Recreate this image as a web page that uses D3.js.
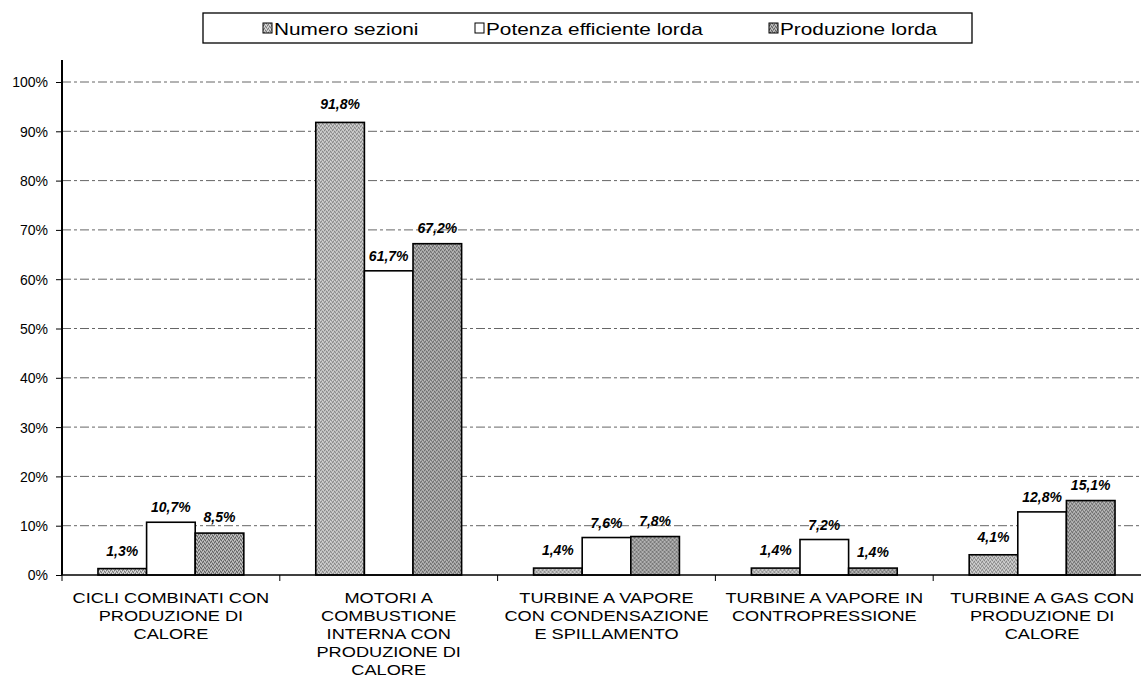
<!DOCTYPE html>
<html>
<head>
<meta charset="utf-8">
<script src="https://cdn.jsdelivr.net/npm/d3@7"></script>
<style>
  body { margin: 0; background: #fff; }
  svg { font-family: "Liberation Sans", Arial, sans-serif; }
</style>
</head>
<body>
<div id="chart"></div>
<script>
// data
var categories = [
  ["CICLI COMBINATI CON", "PRODUZIONE DI", "CALORE"],
  ["MOTORI A", "COMBUSTIONE", "INTERNA CON", "PRODUZIONE DI", "CALORE"],
  ["TURBINE A VAPORE", "CON CONDENSAZIONE", "E SPILLAMENTO"],
  ["TURBINE A VAPORE IN", "CONTROPRESSIONE"],
  ["TURBINE A GAS CON", "PRODUZIONE DI", "CALORE"]
];
var seriesNames = ["Numero sezioni", "Potenza efficiente lorda", "Produzione lorda"];
var numeroSezioni = [1.3, 91.8, 1.4, 1.4, 4.1];
var potenzaLorda = [10.7, 61.7, 7.6, 7.2, 12.8];
var produzioneLorda = [8.5, 67.2, 7.8, 1.4, 15.1];
var yTicks = [0, 10, 20, 30, 40, 50, 60, 70, 80, 90, 100];

var series = [numeroSezioni, potenzaLorda, produzioneLorda];
var fills = ["url(#stipple0)", "#ffffff", "url(#stipple2)"];
var labelGap = [13, 10, 11];
var stretch = 1.3; // the scanned text is wide

var width = 1141, height = 686;
var margin = { top: 82, right: 0, bottom: 111, left: 62 };
var innerW = width - margin.left - margin.right,
  innerH = height - margin.top - margin.bottom;

var svg = d3
  .select("#chart")
  .append("svg")
  .attr("width", width)
  .attr("height", height);

// speckled grey fills like the printed bars
var defs = svg.append("defs");
function stipple(id, base, dark, light) {
  var p = defs.append("pattern")
    .attr("id", id)
    .attr("patternUnits", "userSpaceOnUse")
    .attr("width", 4).attr("height", 4);
  p.append("rect").attr("width", 4).attr("height", 4).attr("fill", base);
  [[0, 0], [2, 1], [1, 3], [3, 2]].forEach(function(c) {
    p.append("rect").attr("x", c[0]).attr("y", c[1]).attr("width", 1).attr("height", 1).attr("fill", dark);
  });
  [[1, 1], [3, 0], [0, 2], [2, 3]].forEach(function(c) {
    p.append("rect").attr("x", c[0]).attr("y", c[1]).attr("width", 1).attr("height", 1).attr("fill", light);
  });
}
stipple("stipple0", "#b4b4b4", "#7a7a7a", "#e0e0e0");
stipple("stipple2", "#9a9a9a", "#606060", "#c8c8c8");

var g = svg.append("g")
  .attr("transform", "translate(" + margin.left + "," + margin.top + ")");

var x0 = d3.scaleBand()
  .domain(d3.range(categories.length))
  .range([0, innerW + 10]);

var x1 = d3.scaleBand()
  .domain(d3.range(series.length))
  .range([0, x0.bandwidth()])
  .paddingOuter(0.74)
  .paddingInner(0);

var y = d3.scaleLinear()
  .domain([0, 100])
  .range([innerH, 0]);

// gridlines
g.selectAll(".grid")
  .data(yTicks.slice(1))
  .enter().append("line")
  .attr("class", "grid")
  .attr("x1", 0)
  .attr("x2", innerW)
  .attr("y1", function(d) { return y(d); })
  .attr("y2", function(d) { return y(d); })
  .attr("stroke", "#666")
  .attr("stroke-width", 1)
  .attr("stroke-dasharray", "9,3,3,3");

// bars
var groups = g.selectAll(".cat")
  .data(categories)
  .enter().append("g")
  .attr("class", "cat")
  .attr("transform", function(d, i) { return "translate(" + x0(i) + ",0)"; });

series.forEach(function(vals, s) {
  groups.append("rect")
    .attr("x", x1(s))
    .attr("width", x1.bandwidth())
    .attr("y", function(d, i) { return y(vals[i]); })
    .attr("height", function(d, i) { return innerH - y(vals[i]); })
    .attr("fill", fills[s])
    .attr("stroke", "#000")
    .attr("stroke-width", 1.6);

  groups.append("text")
    .attr("x", x1(s) + x1.bandwidth() / 2)
    .attr("y", function(d, i) { return y(vals[i]) - labelGap[s]; })
    .attr("text-anchor", "middle")
    .style("font-size", "14px")
    .style("font-weight", "bold")
    .style("font-style", "italic")
    .text(function(d, i) { return vals[i].toFixed(1).replace(".", ",") + "%"; });
});

// x axis
g.append("line")
  .attr("x1", 0).attr("x2", innerW)
  .attr("y1", innerH).attr("y2", innerH)
  .attr("stroke", "#000").attr("stroke-width", 1.5);

g.selectAll(".xtick")
  .data(d3.range(categories.length))
  .enter().append("line")
  .attr("x1", function(d) { return x0(d); })
  .attr("x2", function(d) { return x0(d); })
  .attr("y1", innerH).attr("y2", innerH + 6)
  .attr("stroke", "#000");

groups.append("g")
  .attr("transform", "translate(" + x0.bandwidth() / 2 + ",0) scale(" + stretch + ",1)")
  .append("text")
  .attr("text-anchor", "middle")
  .style("font-size", "14px")
  .selectAll("tspan")
  .data(function(d) { return d; })
  .enter().append("tspan")
  .attr("x", 0)
  .attr("y", function(d, i) { return innerH + 28 + i * 18; })
  .text(function(d) { return d; });

// y axis
var yAxis = g.append("g")
  .call(d3.axisLeft(y).tickValues(yTicks).tickSize(6)
    .tickFormat(function(d) { return d + "%"; }));
yAxis.select(".domain").remove();
yAxis.selectAll("text")
  .style("font-size", "14px")
  .style("font-family", "'Liberation Sans', Arial, sans-serif")
  .attr("dx", "-5")
  .attr("dy", "0.35em");
g.append("line")
  .attr("x1", 0).attr("x2", 0)
  .attr("y1", -22).attr("y2", innerH)
  .attr("stroke", "#000").attr("stroke-width", 2);

// legend
var legend = svg.append("g").attr("transform", "translate(203,13)");
legend.append("rect")
  .attr("width", 769).attr("height", 30)
  .attr("fill", "#fff").attr("stroke", "#000").attr("stroke-width", 1.3);
var legendX = [60, 272, 566];
seriesNames.forEach(function(name, s) {
  var item = legend.append("g").attr("transform", "translate(" + legendX[s] + ",0)");
  item.append("rect")
    .attr("x", 0).attr("y", 10).attr("width", 9).attr("height", 10)
    .attr("fill", fills[s]).attr("stroke", "#000").attr("stroke-width", 1);
  item.append("text")
    .attr("transform", "translate(11,22) scale(" + stretch + ",1)")
    .style("font-size", "16px")
    .text(name);
});
</script>
</body>
</html>
